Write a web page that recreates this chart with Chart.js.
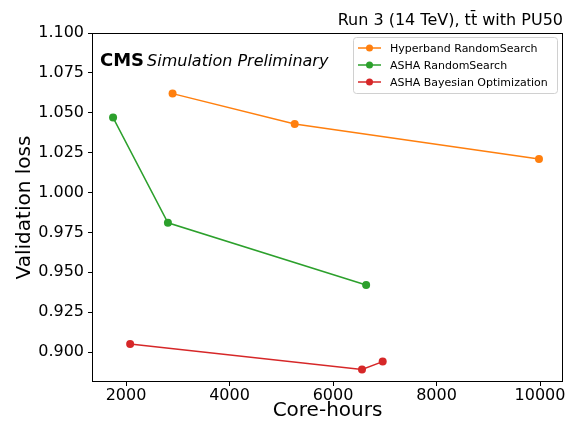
<!DOCTYPE html>
<html>
<head>
<meta charset="utf-8">
<script src="https://cdn.jsdelivr.net/npm/chart.js@4"></script>
<style>
  html, body { margin: 0; padding: 0; background: #fff; }
  #wrap { width: 577px; height: 423px; }
</style>
</head>
<body>
<div id="wrap"><canvas id="chart"></canvas></div>
<script>
const seriesNames = ['Hyperband RandomSearch', 'ASHA RandomSearch', 'ASHA Bayesian Optimization'];
const seriesColors = ['#ff7f0e', '#2ca02c', '#d62728'];

const hyperbandHours = [2900, 5260, 9980];
const hyperbandLoss = [1.062, 1.043, 1.021];

const ashaRandomHours = [1750, 2810, 6640];
const ashaRandomLoss = [1.047, 0.981, 0.942];

const ashaBayesHours = [2080, 6560, 6960];
const ashaBayesLoss = [0.905, 0.889, 0.894];

const xTicks = [2000, 4000, 6000, 8000, 10000];
const yTicks = [0.900, 0.925, 0.950, 0.975, 1.000, 1.025, 1.050, 1.075, 1.100];

const FONT = 'DejaVu Sans';

function toPoints(xs, ys) {
  return xs.map((x, i) => ({ x: x, y: ys[i] }));
}

const allSeries = [
  toPoints(hyperbandHours, hyperbandLoss),
  toPoints(ashaRandomHours, ashaRandomLoss),
  toPoints(ashaBayesHours, ashaBayesLoss)
];

// frame, titles, CMS label and the legend box
const decorations = {
  id: 'decorations',
  afterDraw(chart) {
    const ctx = chart.ctx;
    const a = chart.chartArea;
    ctx.save();
    ctx.strokeStyle = '#000';
    ctx.lineWidth = 1;
    ctx.strokeRect(a.left + 0.5, a.top + 0.5, a.right - a.left - 1, a.bottom - a.top - 1);

    ctx.fillStyle = '#000';
    ctx.textBaseline = 'alphabetic';
    ctx.textAlign = 'right';
    ctx.font = '16px ' + FONT;
    ctx.fillText('Run 3 (14 TeV), t\u0074\u0304 with PU50', a.right, 25);

    ctx.textAlign = 'left';
    ctx.font = 'bold 18px ' + FONT;
    ctx.fillText('CMS', a.left + 8, 66);
    const w = ctx.measureText('CMS').width;
    ctx.font = 'italic 16px ' + FONT;
    ctx.fillText('Simulation Preliminary', a.left + 11 + w, 66);

    // legend
    const lx = 353, ly = 37, lw = 204, lh = 56;
    ctx.strokeStyle = '#d0d0d0';
    ctx.lineWidth = 1;
    ctx.beginPath();
    ctx.roundRect(lx + 0.5, ly + 0.5, lw, lh, 3);
    ctx.fillStyle = 'rgba(255,255,255,0.8)';
    ctx.fill();
    ctx.stroke();
    ctx.font = '11px ' + FONT;
    ctx.textBaseline = 'middle';
    seriesNames.forEach((name, i) => {
      const y = ly + 11 + i * 17;
      ctx.strokeStyle = seriesColors[i];
      ctx.lineWidth = 1.5;
      ctx.beginPath();
      ctx.moveTo(358, y);
      ctx.lineTo(381, y);
      ctx.stroke();
      ctx.fillStyle = seriesColors[i];
      ctx.beginPath();
      ctx.arc(369.5, y, 3.5, 0, Math.PI * 2);
      ctx.fill();
      ctx.fillStyle = '#000';
      ctx.fillText(name, 390, y + 1);
    });
    ctx.restore();
  }
};

new Chart(document.getElementById('chart'), {
  type: 'line',
  data: {
    datasets: seriesNames.map((name, i) => ({
      label: name,
      data: allSeries[i],
      borderColor: seriesColors[i],
      backgroundColor: seriesColors[i],
      borderWidth: 1.5,
      pointRadius: 4,
      pointBorderWidth: 0,
      tension: 0
    }))
  },
  options: {
    responsive: true,
    maintainAspectRatio: false,
    animation: false,
    layout: { padding: { top: 33, right: 14, left: 0, bottom: 0 } },
    plugins: {
      legend: { display: false },
      tooltip: { enabled: false }
    },
    scales: {
      x: {
        type: 'linear',
        min: 1343,
        max: 10444,
        afterBuildTicks: s => { s.ticks = xTicks.map(v => ({ value: v })); },
        afterFit: s => { s.height = 41; },
        border: { display: false },
        grid: { drawOnChartArea: false, drawTicks: true, tickLength: 4, color: '#000' },
        ticks: {
          color: '#000',
          font: { family: FONT, size: 16 },
          padding: 0,
          maxRotation: 0,
          callback: v => String(v)
        },
        title: {
          display: true,
          text: 'Core-hours',
          color: '#000',
          font: { family: FONT, size: 20 },
          padding: { top: 1, bottom: 0 }
        }
      },
      y: {
        min: 0.8812,
        max: 1.1,
        afterBuildTicks: s => { s.ticks = yTicks.map(v => ({ value: v })); },
        afterFit: s => { s.width = 92; },
        border: { display: false },
        grid: { drawOnChartArea: false, drawTicks: true, tickLength: 4, color: '#000' },
        ticks: {
          color: '#000',
          font: { family: FONT, size: 16 },
          padding: 4,
          callback: v => Number(v).toFixed(3)
        },
        title: {
          display: true,
          text: 'Validation loss',
          color: '#000',
          font: { family: FONT, size: 20 },
          padding: { top: 13, bottom: 0 }
        }
      }
    }
  },
  plugins: [decorations]
});
</script>
</body>
</html>
